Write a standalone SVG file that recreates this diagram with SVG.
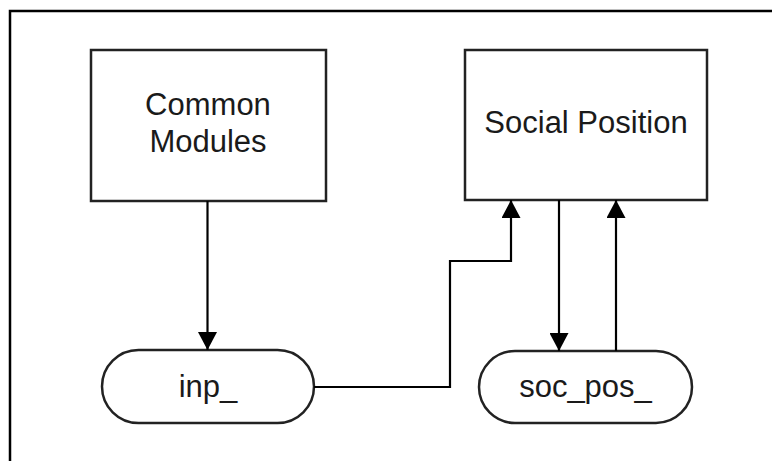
<svg xmlns="http://www.w3.org/2000/svg" width="772" height="461" viewBox="0 0 772 461">
<defs>
<style>
.frame{fill:none;stroke:#000;stroke-width:2.5}
.box{fill:#fff;stroke:#222;stroke-width:2.5}
.lbl{font-family:"Liberation Sans",Arial,sans-serif;font-size:31px;fill:#1a1a1a;text-anchor:middle}
.edge{fill:none;stroke:#000;stroke-width:2.2}
</style>
<marker id="ah" viewBox="0 0 18 19" refX="18" refY="9.5" markerWidth="18" markerHeight="19" markerUnits="userSpaceOnUse" orient="auto">
<path d="M0,0 L18,9.5 L0,19 Z" fill="#000"/>
</marker>
</defs>
<rect x="0" y="0" width="772" height="461" fill="#fff"/>
<rect class="frame" x="10" y="11" width="775" height="470"/>
<g id="common-modules">
<rect class="box" x="91" y="50" width="235" height="151"/>
<text class="lbl" x="208" y="115">Common</text>
<text class="lbl" x="208" y="152">Modules</text>
</g>
<g id="social-position">
<rect class="box" x="465" y="50" width="242" height="150"/>
<text class="lbl" x="586" y="133">Social Position</text>
</g>
<g id="inp">
<rect class="box" x="102" y="350" width="212" height="73" rx="36.5" ry="36.5"/>
<text class="lbl" x="208" y="397">inp_</text>
</g>
<g id="soc-pos">
<rect class="box" x="479" y="351" width="213" height="72" rx="36" ry="36"/>
<text class="lbl" x="585.5" y="397">soc_pos_</text>
</g>
<g id="connectors">
<path class="edge" d="M207.5,201 L207.5,350" marker-end="url(#ah)"/>
<path class="edge" d="M314,387 L450,387 L450,261 L511,261 L511,200" marker-end="url(#ah)"/>
<path class="edge" d="M559,200 L559,351" marker-end="url(#ah)"/>
<path class="edge" d="M616,351 L616,200" marker-end="url(#ah)"/>
</g>
</svg>
